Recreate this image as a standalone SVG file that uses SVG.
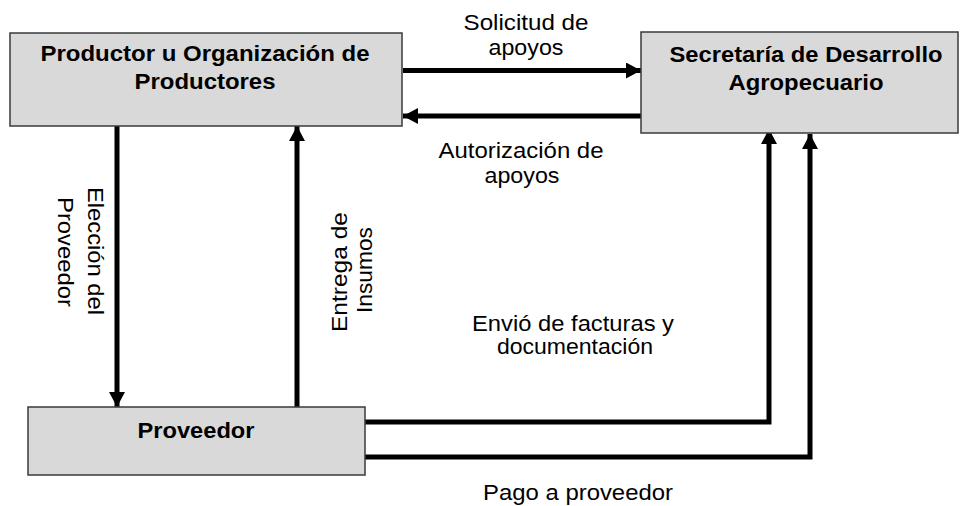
<svg xmlns="http://www.w3.org/2000/svg" width="965" height="506" viewBox="0 0 965 506">
<style>
.box{fill:#d9d9d9;stroke:#3a3a3a;stroke-width:1.5}
.bt{font-family:"Liberation Sans",Arial,sans-serif;font-weight:bold;font-size:22px;fill:#000;text-anchor:middle}
.lt{font-family:"Liberation Sans",Arial,sans-serif;font-size:22px;fill:#000;text-anchor:middle}
.conn{fill:none;stroke:#000;stroke-width:5}
</style>
<defs>
<marker id="ah" markerUnits="userSpaceOnUse" markerWidth="16" markerHeight="16" refX="15" refY="8" orient="auto">
<path d="M0,0 L15,8 L0,16 z" fill="#000"/>
</marker>
</defs>
<rect width="965" height="506" fill="#fff"/>
<g id="connectors">
<line class="conn" x1="403" y1="70.5" x2="641" y2="70.5" marker-end="url(#ah)"/>
<line class="conn" x1="641" y1="116" x2="403" y2="116" marker-end="url(#ah)"/>
<line class="conn" x1="117" y1="126" x2="117" y2="407" marker-end="url(#ah)"/>
<line class="conn" x1="297" y1="407" x2="297" y2="126" marker-end="url(#ah)"/>
<polyline class="conn" points="365,422 769,422 769,129" marker-end="url(#ah)"/>
<polyline class="conn" points="365,457 810,457 810,134" marker-end="url(#ah)"/>
</g>
<g id="labels">
<text class="lt" x="526" y="30" textLength="125" lengthAdjust="spacingAndGlyphs">Solicitud de</text>
<text class="lt" x="526" y="55" textLength="75" lengthAdjust="spacingAndGlyphs">apoyos</text>
<text class="lt" x="521" y="158" textLength="165" lengthAdjust="spacingAndGlyphs">Autorización de</text>
<text class="lt" x="522" y="183" textLength="75" lengthAdjust="spacingAndGlyphs">apoyos</text>
<text class="lt" transform="translate(88,251) rotate(90)" textLength="128" lengthAdjust="spacingAndGlyphs">Elección del</text>
<text class="lt" transform="translate(58,252) rotate(90)" textLength="110" lengthAdjust="spacingAndGlyphs">Proveedor</text>
<text class="lt" transform="translate(347,272) rotate(-90)" textLength="120" lengthAdjust="spacingAndGlyphs">Entrega de</text>
<text class="lt" transform="translate(372,270) rotate(-90)" textLength="86" lengthAdjust="spacingAndGlyphs">Insumos</text>
<text class="lt" x="573" y="331" textLength="202" lengthAdjust="spacingAndGlyphs">Envió de facturas y</text>
<text class="lt" x="575" y="354" textLength="156" lengthAdjust="spacingAndGlyphs">documentación</text>
<text class="lt" x="578" y="500" textLength="190" lengthAdjust="spacingAndGlyphs">Pago a proveedor</text>
</g>
<g id="productor">
<rect class="box" x="10" y="33" width="392" height="93"/>
<text class="bt" x="205" y="61" textLength="329" lengthAdjust="spacingAndGlyphs">Productor u Organización de</text>
<text class="bt" x="205" y="89" textLength="141" lengthAdjust="spacingAndGlyphs">Productores</text>
</g>
<g id="secretaria">
<rect class="box" x="641" y="32" width="317" height="101"/>
<text class="bt" x="806" y="62" textLength="273" lengthAdjust="spacingAndGlyphs">Secretaría de Desarrollo</text>
<text class="bt" x="806" y="90" textLength="155" lengthAdjust="spacingAndGlyphs">Agropecuario</text>
</g>
<g id="proveedor">
<rect class="box" x="28" y="407" width="337" height="68"/>
<text class="bt" x="196" y="438" textLength="117" lengthAdjust="spacingAndGlyphs">Proveedor</text>
</g>
</svg>
